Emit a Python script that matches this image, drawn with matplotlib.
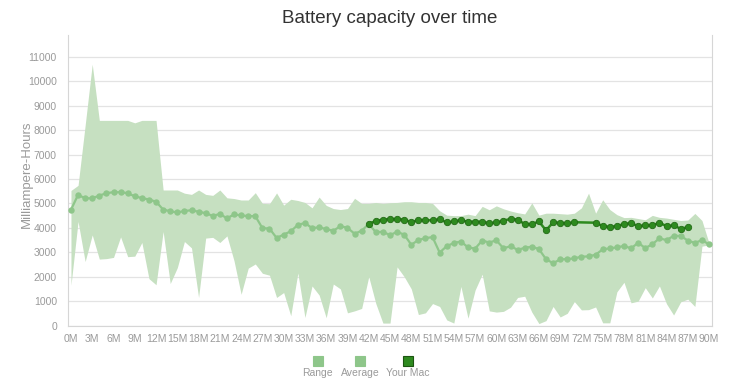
import matplotlib
matplotlib.use("Agg")
import matplotlib.pyplot as plt
from matplotlib.patches import Rectangle

# Battery capacity data, one value per month (mAh)
months = list(range(91))

range_upper = [
    5530, 5740, 8200, 10700, 8400, 8400, 8400, 8400, 8400, 8300,
    8400, 8400, 8400, 5550, 5550, 5550, 5420, 5370, 5550, 5370,
    5330, 5550, 5230, 5200, 5140, 5140, 5440, 5000, 4990, 5430,
    4930, 5170, 5120, 5040, 4820, 5260, 4920, 4790, 4750, 4790,
    5210, 5000, 5000, 5040, 5000, 5030, 5040, 5070, 5070, 5040,
    5040, 5000, 4700, 4520, 4500, 4500, 4560, 4500, 4880, 4740,
    4900, 4780, 4690, 4620, 4570, 5020, 4520, 4600, 4600, 4580,
    4560, 4600, 4820, 5420, 4600, 5150, 4750, 4540, 4420, 4430,
    4380, 4330, 4510, 4430, 4400, 4350, 4300, 4320, 4590, 4300,
    3370,
]

range_lower = [
    1650, 4260, 2620, 3710, 2720, 2740, 2790, 3630, 2820, 2840,
    3400, 1920, 1670, 3850, 1720, 2370, 3440, 3180, 1150, 3580,
    3610, 3400, 3670, 2650, 1280, 2350, 2520, 2140, 2060, 1150,
    1350, 400, 2150, 330, 1620, 1250, 320, 1700, 1500, 520,
    600, 700, 2000, 900, 100, 100, 2400, 2000, 1500, 450,
    520, 900, 780, 230, 100, 1600, 300, 1450, 2100, 600,
    550, 580, 750, 1150, 1200, 550, 80, 200, 780, 350,
    500, 980, 640, 650, 760, 110, 110, 1380, 1770, 930,
    1000, 1550, 1130, 1620, 890, 430, 970, 1080, 780, 3250,
    3300,
]

average = [
    4740, 5350, 5210, 5210, 5320, 5420, 5460, 5460, 5420, 5290,
    5220, 5160, 5070, 4750, 4680, 4630, 4690, 4720, 4660, 4600,
    4490, 4570, 4390, 4550, 4510, 4480, 4480, 3990, 3970, 3590,
    3720, 3860, 4120, 4200, 3990, 4020, 3950, 3880, 4070, 4000,
    3760, 3880, 4160, 3820, 3840, 3700, 3840, 3720, 3310, 3500,
    3580, 3620, 2990, 3250, 3380, 3440, 3200, 3150, 3480, 3400,
    3490, 3160, 3250, 3100, 3180, 3230, 3130, 2720, 2550, 2710,
    2720, 2750, 2820, 2830, 2900, 3120, 3160, 3200, 3260, 3160,
    3390, 3170, 3330, 3570, 3500, 3670, 3670, 3480, 3380, 3500,
    3320,
]

# this Mac has no readings for months 72 and 73
mac_months = list(range(42, 72)) + list(range(74, 88))
mac_values = [
    4170, 4280, 4340, 4360, 4360, 4340, 4230, 4320, 4310, 4310,
    4350, 4220, 4260, 4310, 4250, 4250, 4250, 4190, 4220, 4290,
    4370, 4340, 4150, 4150, 4260, 3900, 4220, 4210, 4180, 4230,
    4210, 4070, 4040, 4070, 4160, 4190, 4070, 4100, 4100, 4210,
    4070, 4100, 3960, 4030,
]

tick_months = list(range(0, 91, 3))
tick_labels = [f"{m}M" for m in tick_months]
y_ticks = list(range(0, 11001, 1000))

RANGE_FILL = "#c6e0c1"
AVG_COLOUR = "#8ec68a"
MAC_COLOUR = "#2e8a1f"
MAC_EDGE = "#236b16"
TEXT_GREY = "#9a9a9a"

plt.rcParams["font.family"] = ["Liberation Sans", "DejaVu Sans"]

fig = plt.figure(figsize=(7.53, 3.88), dpi=100)
ax = fig.add_axes([0.0903, 0.161, 0.8553, 0.749])

ax.fill_between(months, range_lower, range_upper, color=RANGE_FILL, linewidth=0, zorder=1)
ax.plot(months, average, color=AVG_COLOUR, linewidth=1.6, marker="o",
        markersize=4.6, markeredgewidth=0, zorder=3)
ax.plot(mac_months, mac_values, color=MAC_COLOUR, linewidth=1.8, marker="o",
        markersize=4.6, markerfacecolor=MAC_COLOUR, markeredgecolor=MAC_EDGE,
        markeredgewidth=0.6, zorder=4)

ax.set_xlim(-0.42, 90.42)
ax.set_ylim(0, 11900)
ax.set_xticks(tick_months)
ax.set_xticklabels(tick_labels)
ax.set_yticks(y_ticks)
ax.tick_params(axis="both", length=0, labelsize=7.5, labelcolor=TEXT_GREY)
ax.tick_params(axis="x", pad=6)
ax.tick_params(axis="y", pad=8)

ax.grid(axis="y", color="#e3e3e3", linewidth=0.9, zorder=0)
ax.set_axisbelow(True)
for side in ["left", "right", "bottom"]:
    ax.spines[side].set_color("#d6d6d6")
ax.spines["top"].set_visible(False)

# axis title sits well clear of the tick labels
fig.text(0.036, 0.55, "Milliampere-Hours", rotation=90, ha="center", va="center",
         fontsize=9.5, color=TEXT_GREY)
fig.text(0.518, 0.953, "Battery capacity over time", ha="center", va="center",
         fontsize=13.5, color="#333333")

# legend: square marker above each label
legend_items = [("Range", 0.422, AVG_COLOUR, AVG_COLOUR),
                ("Average", 0.478, AVG_COLOUR, AVG_COLOUR),
                ("Your Mac", 0.542, MAC_COLOUR, "#1d5512")]
for label, xc, face, edge in legend_items:
    sq_w, sq_h = 10 / 753, 10 / 388
    fig.add_artist(Rectangle((xc - sq_w / 2, 0.070 - sq_h / 2), sq_w, sq_h,
                             transform=fig.transFigure, facecolor=face,
                             edgecolor=edge, linewidth=0.8))
    fig.text(xc, 0.039, label, ha="center", va="center", fontsize=7.5, color=TEXT_GREY)

fig.savefig("out.png", dpi=100)
